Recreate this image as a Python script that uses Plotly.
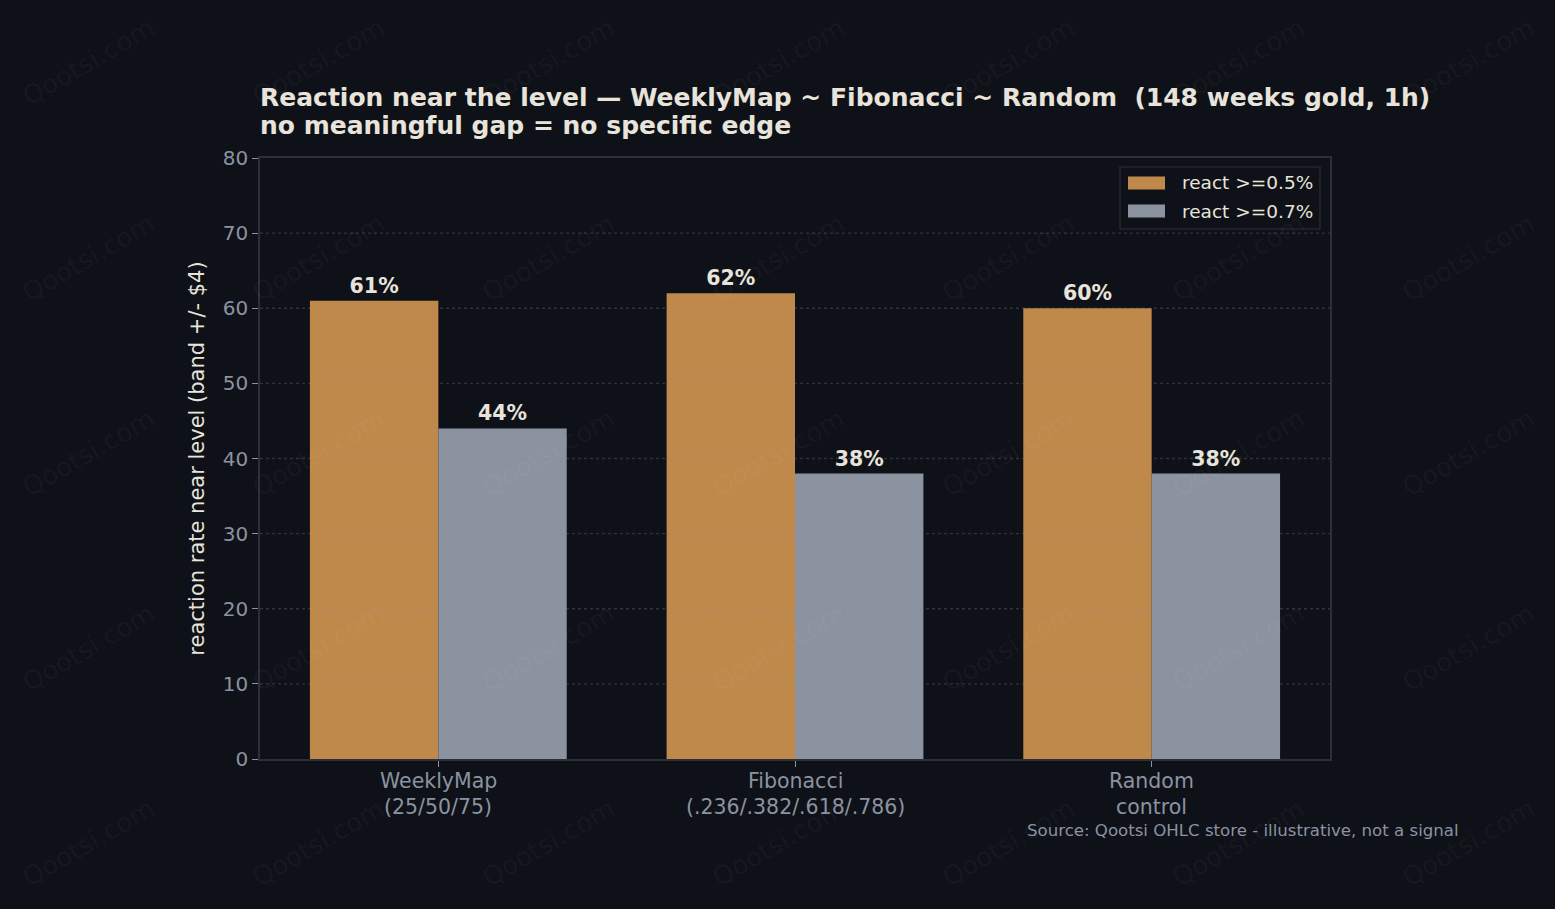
import plotly.graph_objects as go

cat_line1 = ["WeeklyMap", "Fibonacci", "Random"]
cat_line2 = ["(25/50/75)", "(.236/.382/.618/.786)", "control"]
react_05 = [61, 62, 60]
react_07 = [44, 38, 38]
series_names = ["react >=0.5%", "react >=0.7%"]
y_ticks = [0, 10, 20, 30, 40, 50, 60, 70, 80]

BG = "#0e1117"
ORANGE = "#bf894b"
GREY = "#8b93a1"
TEXT = "#e8e4dc"
TICK = "#8b93a1"
SPINE = "#2b2f37"
FONT = "DejaVu Sans"

PL, PR, PT, PB = 260, 1330, 158, 759
PW, PH = PR - PL, PB - PT

def px(x):
    return (x - PL) / PW

def py(y):
    return (PB - y) / PH

x_idx = list(range(len(cat_line1)))
colors = [ORANGE, GREY]
fig = go.Figure()
for name, vals, col in zip(series_names, [react_05, react_07], colors):
    fig.add_trace(go.Bar(
        x=x_idx, y=vals, name=name, marker=dict(color=col, line=dict(width=0)),
        text=[f"{v}%" for v in vals], textposition="outside", cliponaxis=False,
        textfont=dict(family=FONT, size=20.5, color=TEXT, weight="bold"),
        showlegend=False,
    ))

fig.update_layout(
    width=1555, height=909,
    paper_bgcolor=BG, plot_bgcolor=BG,
    barmode="group", bargap=0.28, bargroupgap=0,
    margin=dict(l=PL, r=1555 - PR, t=PT, b=909 - PB),
    font=dict(family=FONT, color=TICK),
    title=dict(
        text="Reaction near the level — WeeklyMap ~ Fibonacci ~ Random  (148 weeks gold, 1h)",
        x=PL / 1555, xanchor="left", y=1 - 97 / 909, yanchor="middle",
        font=dict(family=FONT, size=25, color=TEXT, weight="bold"),
    ),
    showlegend=False,
)
fig.add_annotation(text="no meaningful gap = no specific edge", xref="paper", yref="paper",
                   x=0, y=py(125), xanchor="left", yanchor="middle", showarrow=False, xshift=-2,
                   font=dict(family=FONT, size=25, color=TEXT, weight="bold"))

fig.update_xaxes(
    tickmode="array", tickvals=x_idx, range=[-0.5, 2.5], showticklabels=False,
    showline=True, linecolor=SPINE, linewidth=1.5, mirror=True,
    ticks="outside", ticklen=6, tickcolor=TICK, showgrid=False, zeroline=False,
)
for xi, l1, l2 in zip(x_idx, cat_line1, cat_line2):
    fig.add_annotation(text=l1, xref="x", yref="paper", x=xi, y=py(781),
                       xanchor="center", yanchor="middle", showarrow=False,
                       font=dict(family=FONT, size=20.5, color=TICK))
    fig.add_annotation(text=l2, xref="x", yref="paper", x=xi, y=py(807),
                       xanchor="center", yanchor="middle", showarrow=False,
                       font=dict(family=FONT, size=20.5, color=TICK))

fig.update_yaxes(
    range=[0, 80], tickvals=y_ticks,
    showline=True, linecolor=SPINE, linewidth=1.5, mirror=True,
    ticks="outside", ticklen=6, tickcolor=TICK, showgrid=False, zeroline=False,
    tickfont=dict(family=FONT, size=20, color=TICK),
    title=dict(text="reaction rate near level (band +/- $4)", font=dict(family=FONT, size=21, color=TEXT), standoff=12),
)

# dotted gridlines above bars (as in reference)
for t in y_ticks[1:-1]:
    fig.add_shape(type="line", xref="paper", yref="y", x0=0, x1=1, y0=t, y1=t,
                  line=dict(color="rgba(140,140,140,0.28)", width=1.3, dash="dot"), layer="above")

# custom legend (wide swatches)
fig.add_shape(type="rect", xref="paper", yref="paper", x0=px(1120), x1=px(1320), y0=py(229), y1=py(167),
              line=dict(color=SPINE, width=1.2), fillcolor=BG, layer="above")
for i, (name, col) in enumerate(zip(series_names, colors)):
    cy = 183 + 28 * i
    fig.add_shape(type="rect", xref="paper", yref="paper", x0=px(1128), x1=px(1165), y0=py(cy + 6.5), y1=py(cy - 6.5),
                  line=dict(width=0), fillcolor=col, layer="above")
    fig.add_annotation(text=name, xref="paper", yref="paper", x=px(1180), y=py(cy),
                       xanchor="left", yanchor="middle", showarrow=False,
                       font=dict(family=FONT, size=18.5, color=TEXT))

# watermark
for cx in [88, 318, 548, 778, 1008, 1238, 1468]:
    for cy in [62, 258, 453, 648, 843]:
        fig.add_annotation(text="Qootsi.com", xref="paper", yref="paper",
                           x=px(cx), y=py(cy), xanchor="center", yanchor="middle", showarrow=False,
                           textangle=-30, font=dict(family=FONT, size=26, color="rgba(255,255,255,0.04)"))

fig.add_annotation(text="Source: Qootsi OHLC store - illustrative, not a signal",
                   xref="paper", yref="paper", x=px(1461), y=py(831),
                   xanchor="right", yanchor="middle", showarrow=False,
                   font=dict(family=FONT, size=16.6, color=TICK))

fig.write_html("out.html")
